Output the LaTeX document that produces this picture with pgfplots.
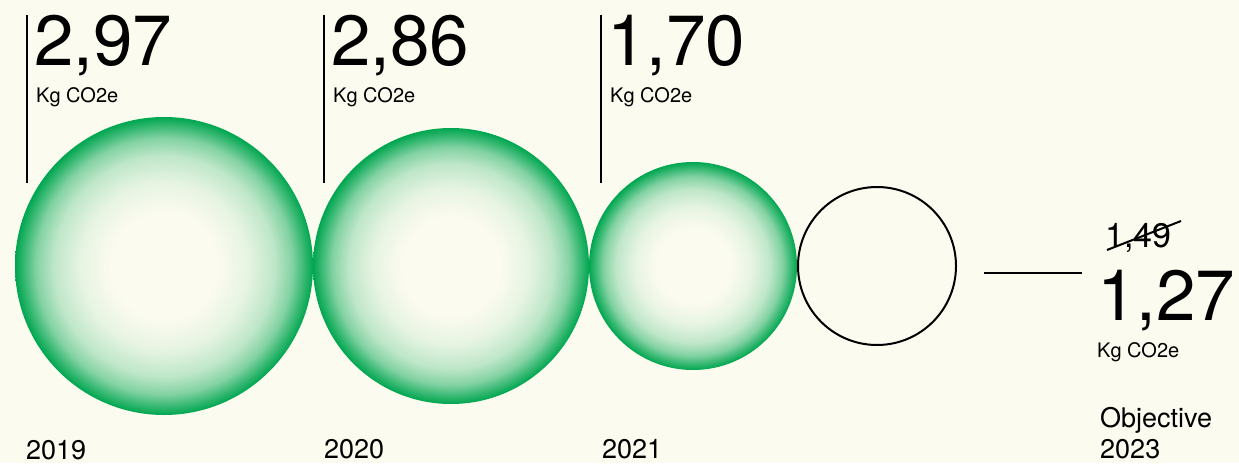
\documentclass[border=0pt]{standalone}
\usepackage{pgfplots}
\pgfplotsset{compat=1.18}
\usepackage{fontspec}
\setmainfont{TeX Gyre Heros}
\usetikzlibrary{backgrounds}

\definecolor{bg}{RGB}{251,251,239}
\definecolor{grn}{RGB}{0,166,80}

% cream centre fading to green rim (path is fitted to the inner 25bp radius)
\pgfdeclareradialshading{bubble}{\pgfpointorigin}{%
  color(0bp)=(bg); color(9bp)=(bg); color(14bp)=(grn!8!bg);
  color(18.5bp)=(grn!24!bg); color(21.5bp)=(grn!48!bg); color(23.5bp)=(grn!78!bg);
  color(25bp)=(grn); color(50bp)=(grn)}
\pgfdeclareplotmark{bubble}{%
  \pgfpathcircle{\pgfpointorigin}{\pgfplotmarksize}%
  \pgfshadepath{bubble}{0}%
  \pgfusepath{discard}}

\newcommand\bignum{\fontsize{71}{71}\selectfont}
\newcommand\unitfont{\fontsize{20}{20}\selectfont}
\newcommand\yrfont{\fontsize{27}{27}\selectfont}

\begin{document}
\begin{tikzpicture}
\begin{axis}[
    x=1pt, y=1pt, y dir=reverse,
    xmin=0, xmax=1239, ymin=0, ymax=463,
    hide axis, clip=false,
  ]
  % yearly footprint: centre x, centre y, radius (px)
  \addplot[scatter, only marks, mark=bubble,
    visualization depends on={\thisrow{r} \as \rad},
    scatter/@pre marker code/.append style={/tikz/mark size=\rad},
  ] table {
    x   y   r
    164 266 149
    451 266 138
    693 266 104
  };
  % 2023 objective
  \addplot[only marks, mark=o, mark size=79,
    mark options={draw=black, line width=2pt}] coordinates {(877,266)};

  \path (rel axis cs:0,0) coordinate (A) (rel axis cs:1,1) coordinate (B);

  \draw[line width=2pt] (axis cs:27,15) -- (axis cs:27,183);
  \draw[line width=2pt] (axis cs:324,15) -- (axis cs:324,183);
  \draw[line width=2pt] (axis cs:601,15) -- (axis cs:601,183);
  \draw[line width=2.5pt] (axis cs:984,273) -- (axis cs:1082,273);

  \node[anchor=base west, inner sep=0, font=\bignum] at (axis cs:34,65) {2,97};
  \node[anchor=base west, inner sep=0, font=\bignum] at (axis cs:331,65) {2,86};
  \node[anchor=base west, inner sep=0, font=\bignum] at (axis cs:607,65) {1,70};
  \node[anchor=base west, inner sep=0, font=\unitfont] at (axis cs:36,102) {Kg CO2e};
  \node[anchor=base west, inner sep=0, font=\unitfont] at (axis cs:333,102) {Kg CO2e};
  \node[anchor=base west, inner sep=0, font=\unitfont] at (axis cs:610,102) {Kg CO2e};

  \node[anchor=base west, inner sep=0, font=\fontsize{34}{34}\selectfont] at (axis cs:1105,247) {1,49};
  \draw[line width=2pt] (axis cs:1107,250) -- (axis cs:1181,221);
  \node[anchor=base west, inner sep=0, font=\bignum] at (axis cs:1097,320) {1,27};
  \node[anchor=base west, inner sep=0, font=\unitfont] at (axis cs:1097,357) {Kg CO2e};

  \node[anchor=base west, inner sep=0, font=\yrfont] at (axis cs:26,459) {2019};
  \node[anchor=base west, inner sep=0, font=\yrfont] at (axis cs:324,458) {2020};
  \node[anchor=base west, inner sep=0, font=\yrfont] at (axis cs:602,458) {2021};
  \node[anchor=base west, inner sep=0, font=\yrfont] at (axis cs:1100,427) {Objective};
  \node[anchor=base west, inner sep=0, font=\yrfont] at (axis cs:1100,458) {2023};
\end{axis}
\begin{scope}[on background layer]
  \fill[bg] (A) rectangle (B);
\end{scope}
\pgfresetboundingbox
\path (A) rectangle (B);
\end{tikzpicture}
\end{document}
